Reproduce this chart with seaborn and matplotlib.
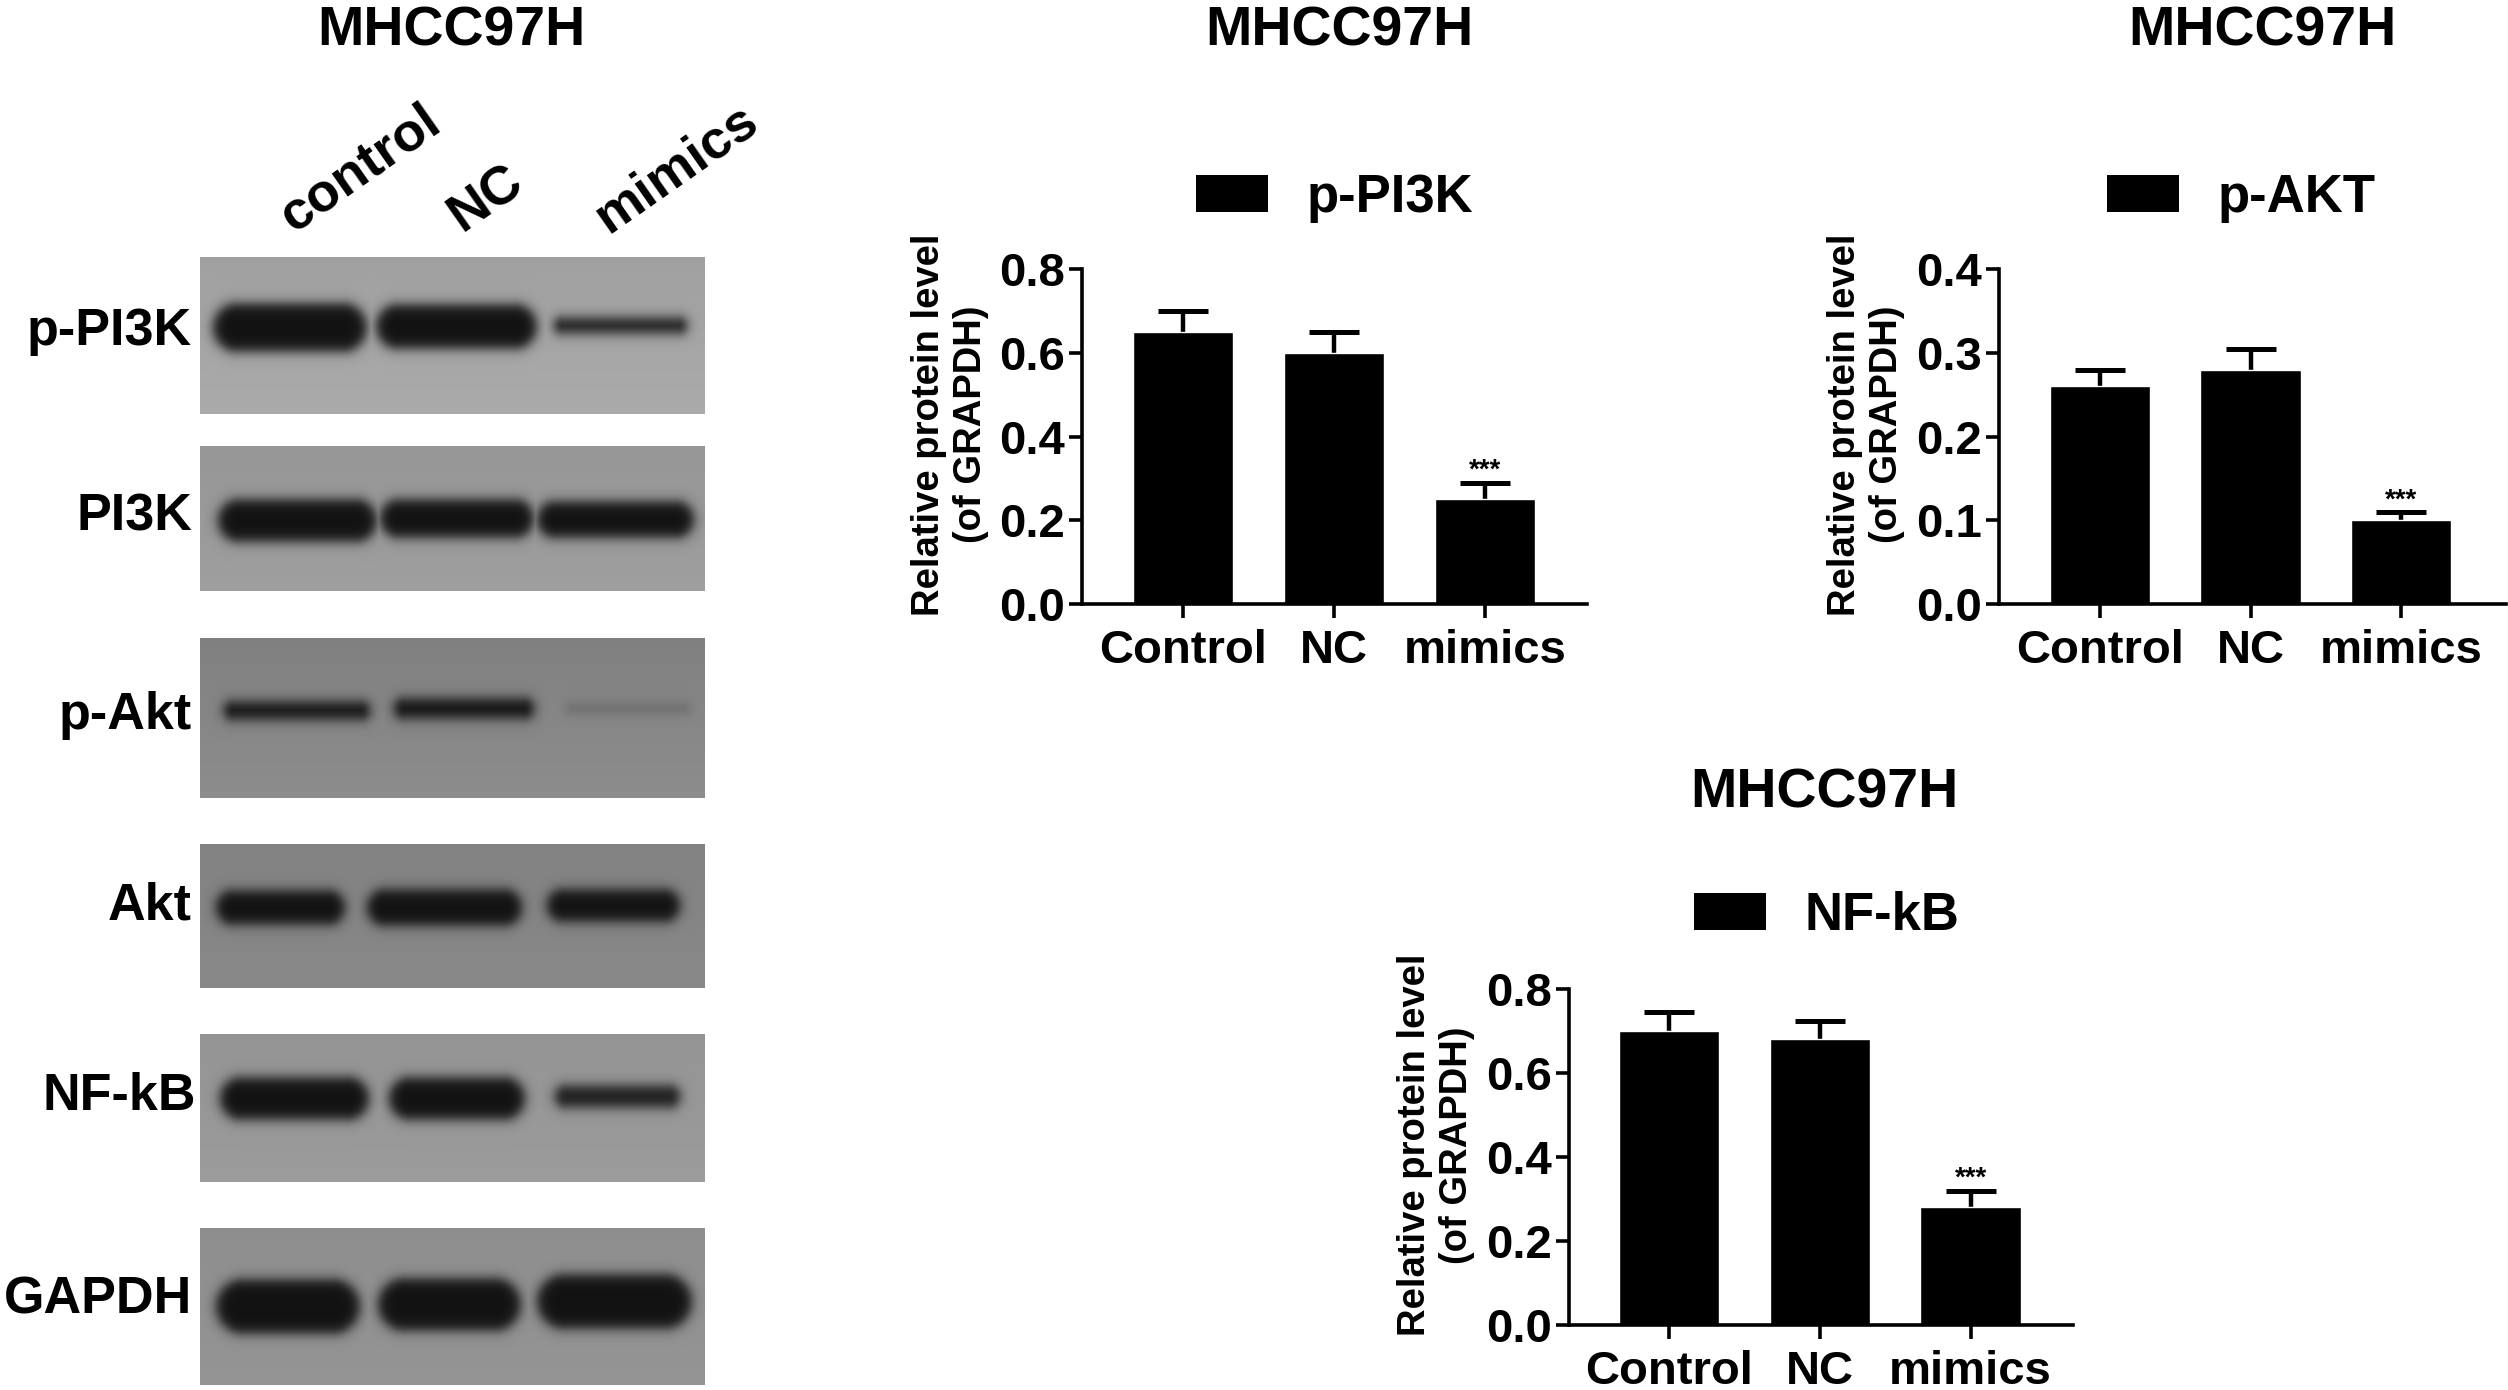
import numpy as np
import pandas as pd
import matplotlib
matplotlib.use('Agg')
import matplotlib.pyplot as plt
from matplotlib.patches import Patch
import seaborn as sns

# --- data ---
GROUPS = ['Control', 'NC', 'mimics']
LANES = ['control', 'NC', 'mimics']

PI3K_MEAN = [0.65, 0.60, 0.25]
PI3K_TOP = [0.70, 0.65, 0.29]
AKT_MEAN = [0.26, 0.28, 0.10]
AKT_TOP = [0.28, 0.305, 0.11]
NFKB_MEAN = [0.70, 0.68, 0.28]
NFKB_TOP = [0.745, 0.725, 0.32]

BLOT_NAMES = ['p-PI3K', 'PI3K', 'p-Akt', 'Akt', 'NF-kB', 'GAPDH']
# how dark each band is, 0 = nothing, 1 = full
BLOT_DARK = [[1.0, 1.0, 0.88], [1.0, 1.0, 1.0], [0.95, 0.97, 0.2],
             [1.0, 1.0, 1.0], [1.0, 1.0, 0.9], [1.0, 1.0, 1.0]]
BG_TOP = [160, 150, 128, 130, 148, 142]
BG_BOTTOM = [170, 158, 140, 136, 155, 148]

# band outlines in pixels of the full picture: left, right, centre y, half height
BAND_LEFT = [[213, 376, 554], [218, 380, 537], [224, 394, 567],
             [216, 367, 547], [220, 389, 555], [216, 378, 537]]
BAND_RIGHT = [[366, 536, 686], [376, 533, 693], [369, 533, 688],
              [344, 521, 679], [368, 524, 679], [359, 520, 691]]
BAND_Y = [[327, 326, 325], [520, 518, 519], [710, 708, 708],
          [907, 907, 905], [1098, 1098, 1096], [1306, 1304, 1301]]
BAND_HALF = [[24, 22, 8], [21, 19, 18], [9, 10, 5],
             [17, 18, 16], [21, 21, 11], [27, 26, 27]]

# --- layout ---
W, H = 2508, 1390
PANEL_X = (200, 705)
PANEL_Y = [(257, 414), (446, 591), (638, 798), (844, 988), (1034, 1182), (1228, 1385)]
LABEL_Y = [332, 517, 715, 906, 1096, 1300]
LANE_POS = [(361, 169), (486, 199), (676, 169)]

sns.set_theme(style='white')
plt.rcParams['font.family'] = ['Liberation Sans']
plt.rcParams['font.weight'] = 'bold'
plt.rcParams['axes.labelweight'] = 'bold'
for key in ['text.color', 'axes.labelcolor', 'xtick.color', 'ytick.color']:
    plt.rcParams[key] = 'black'

fig = plt.figure(figsize=(W / 100, H / 100), dpi=100)


def fx(px):
    return px / W


def fy(px):
    return 1 - px / H


def add_ax(x0, x1, y0, y1):
    return fig.add_axes([fx(x0), fy(y1), fx(x1) - fx(x0), (y1 - y0) / H])


def blot_image(i):
    y0, y1 = PANEL_Y[i]
    x0, x1 = PANEL_X
    yy, xx = np.mgrid[y0:y1, x0:x1]
    bg = np.linspace(BG_TOP[i], BG_BOTTOM[i], y1 - y0)[:, None] * np.ones(x1 - x0)
    ink = np.zeros_like(bg)
    for j in range(3):
        xc = (BAND_LEFT[i][j] + BAND_RIGHT[i][j]) / 2
        half = BAND_HALF[i][j]
        reach = (BAND_RIGHT[i][j] - BAND_LEFT[i][j]) / 2 - half
        dx = np.maximum(np.abs(xx - xc) - reach, 0)
        dist = np.hypot(dx, yy - BAND_Y[i][j]) - half
        ink = np.maximum(ink, BLOT_DARK[i][j] / (1 + np.exp(dist / 3.5)))
    return bg + (18 - bg) * ink


def draw_blots():
    for i, name in enumerate(BLOT_NAMES):
        y0, y1 = PANEL_Y[i]
        ax = add_ax(PANEL_X[0], PANEL_X[1], y0, y1)
        sns.heatmap(blot_image(i), ax=ax, cmap='gray', vmin=0, vmax=255, cbar=False,
                    xticklabels=False, yticklabels=False, rasterized=True)
        right = 196 if name == 'NF-kB' else 192
        fig.text(fx(right), fy(LABEL_Y[i]), name, fontsize=37.5, ha='right', va='center')
    for lane, (x, y) in zip(LANES, LANE_POS):
        fig.text(fx(x), fy(y), lane, fontsize=39, rotation=35, ha='center', va='center',
                 rotation_mode='anchor')
    fig.text(fx(451), fy(31), 'MHCC97H', fontsize=40, ha='center', va='center')


def draw_bars(box, means, tops, ymax, yticks, name, title_pos, legend_x, legend_y, ylabel_x):
    x0, x1, y0, y1, first, step = box
    ax = add_ax(x0, x1, y0, y1)
    df = pd.DataFrame({'group': GROUPS, 'value': means})
    sns.barplot(data=df, x='group', y='value', color='black', saturation=1, width=0.667,
                ax=ax, errorbar=None, zorder=2)
    pos = np.arange(len(GROUPS))
    upper = np.array(tops) - np.array(means)
    _, caps, _ = ax.errorbar(pos, means, yerr=[np.zeros(len(pos)), upper], fmt='none', ecolor='black',
                             elinewidth=3.2, capsize=18, capthick=3.6, zorder=1)
    # only the upper cap is drawn in the original
    caps[0].set_visible(False)
    ax.annotate('***', xy=(2, tops[2]), xytext=(0, -1), textcoords='offset points',
                ha='center', va='bottom', fontsize=20)

    ax.set_xlim((x0 - first) / step, (x1 - first) / step)
    ax.set_ylim(0, ymax)
    ax.set_yticks(yticks)
    ax.set_yticklabels([f'{t:.1f}' for t in yticks])
    ax.set_xlabel('')
    ax.set_ylabel('Relative protein level\n(of GRAPDH)', fontsize=27.5, linespacing=1.2)
    ax.yaxis.set_label_coords(fx(ylabel_x), fy((y0 + y1) / 2 - 12), transform=fig.transFigure)
    ax.tick_params(axis='y', length=9.3, width=2.6, labelsize=34, pad=3, left=True, color='black')
    ax.tick_params(axis='x', length=10, width=2.6, labelsize=34, pad=8, bottom=True, color='black')
    for side in ['top', 'right']:
        ax.spines[side].set_visible(False)
    for side in ['left', 'bottom']:
        ax.spines[side].set_linewidth(2.6)
        ax.spines[side].set_color('black')
    ax.patch.set_alpha(0)

    ax.legend(handles=[Patch(facecolor='black', edgecolor='none', label=name)],
              loc='center left', bbox_to_anchor=(fx(legend_x), fy(legend_y)),
              bbox_transform=fig.transFigure, frameon=False, fontsize=38, borderpad=0,
              borderaxespad=0, handlelength=1.37, handleheight=0.7, handletextpad=0.72)
    fig.text(fx(title_pos[0]), fy(title_pos[1]), 'MHCC97H', fontsize=40, ha='center', va='center')


def main():
    draw_blots()
    draw_bars((1082, 1587, 269, 604, 1183, 151), PI3K_MEAN, PI3K_TOP, 0.8, [0, 0.2, 0.4, 0.6, 0.8],
              'p-PI3K', (1339, 31), 1196, 198, 989)
    draw_bars((1999, 2506, 269, 604, 2100, 150.5), AKT_MEAN, AKT_TOP, 0.4, [0, 0.1, 0.2, 0.3, 0.4],
              'p-AKT', (2262, 31), 2107, 198, 1905)
    draw_bars((1569, 2073, 989, 1325, 1669, 150.8), NFKB_MEAN, NFKB_TOP, 0.8, [0, 0.2, 0.4, 0.6, 0.8],
              'NF-kB', (1824, 793), 1694, 916, 1475)
    fig.savefig('out.png', dpi=100, facecolor='white')


if __name__ == '__main__':
    main()
